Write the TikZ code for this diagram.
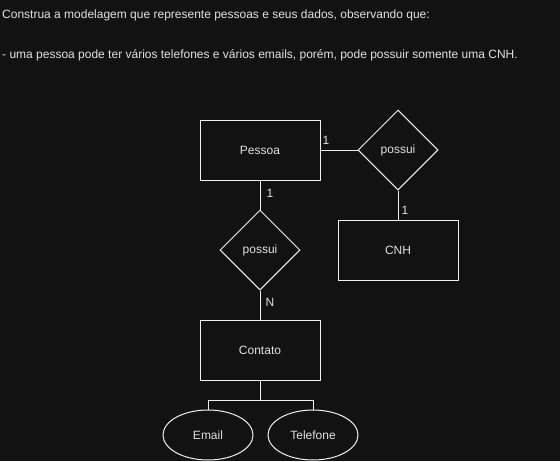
\documentclass[tikz,border=0pt]{standalone}
\usepackage{fontspec}
\setmainfont{Liberation Sans}
\usetikzlibrary{shapes.geometric}
\definecolor{bgC}{RGB}{18,18,18}
\definecolor{lineC}{RGB}{240,240,240}
\definecolor{txtC}{RGB}{225,225,225}
\tikzset{
  base/.style={draw=lineC, line width=1pt, inner sep=0pt, text=txtC, font=\fontsize{12}{14}\selectfont},
  entity/.style={base, minimum width=120pt, minimum height=60pt},
  rel/.style={base, diamond, minimum width=80pt, minimum height=80pt},
  attr/.style={base, ellipse, minimum width=90pt, minimum height=50pt},
  card/.style={text=txtC, inner sep=0pt, font=\fontsize{12}{14}\selectfont},
  conn/.style={draw=lineC, line width=1pt},
  note/.style={text=txtC, inner sep=0pt, anchor=west, font=\fontsize{12}{14}\selectfont}
}
\begin{document}
\begin{tikzpicture}[x=1pt,y=-1pt]
\fill[bgC] (0,0) rectangle (560,461);
\useasboundingbox (0,0) rectangle (560,461);
\node[note] (t1) at (2,15) {Construa a modelagem que represente pessoas e seus dados, observando que:};
\node[note] (t2) at (2,55) {- uma pessoa pode ter vários telefones e vários emails, porém, pode possuir somente uma CNH.};
\node[entity] (pessoa) at (260,150) {Pessoa};
\node[rel] (r1) at (398,150) {possui};
\node[entity] (cnh) at (398,250) {CNH};
\node[rel] (r2) at (260,250) {possui};
\node[entity] (contato) at (260,350) {Contato};
\node[attr] (email) at (208,435) {Email};
\node[attr] (tel) at (313,435) {Telefone};
\coordinate (fork) at (260,400);
\draw[conn] (pessoa.east) -- (r1.west);
\draw[conn] (r1.south) -- (cnh.north);
\draw[conn] (pessoa.south) -- (r2.north);
\draw[conn] (r2.south) -- (contato.north);
\draw[conn] (contato.south) -- (fork) -| (email.north);
\draw[conn] (fork) -| (tel.north);
\node[card] (c1) at (326,140) {1};
\node[card] (c2) at (270,193) {1};
\node[card] (c3) at (270,302) {N};
\node[card] (c4) at (405,210) {1};
\end{tikzpicture}
\end{document}
